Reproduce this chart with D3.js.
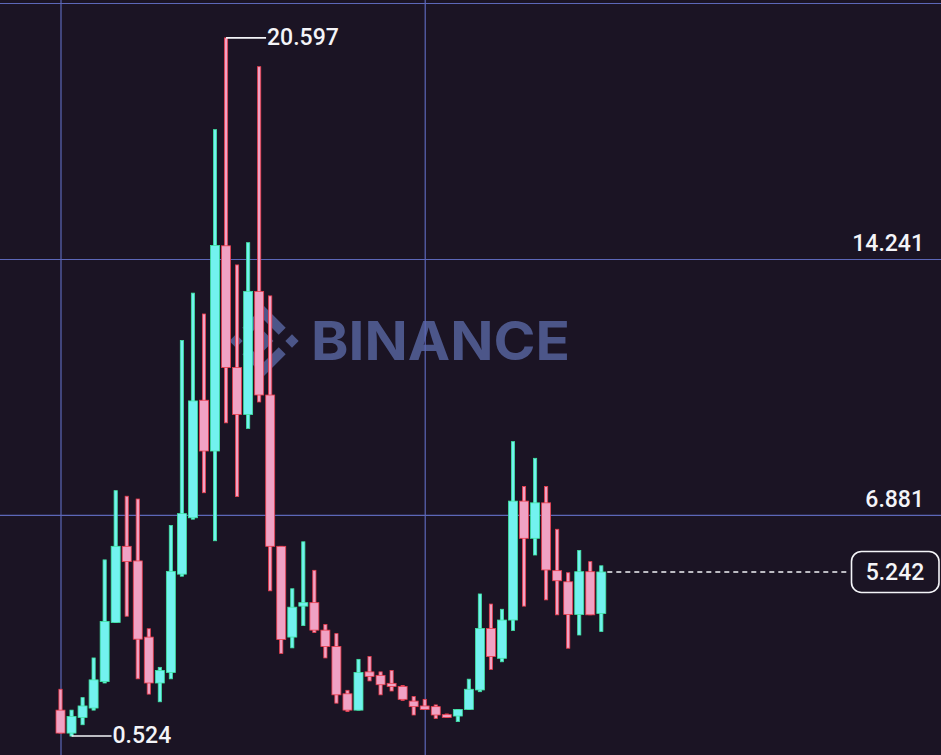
<!DOCTYPE html>
<html>
  <head>
    <meta charset="utf-8">
    <title>Price candles</title>
    <script src="https://cdn.jsdelivr.net/npm/d3@7"></script>
    <style>
      html, body { margin: 0; padding: 0; background: #1b1424; overflow: hidden; }
      #chart { display: block; }
      .label { font-family: Roboto, "Noto Sans", sans-serif; font-weight: 500; fill: #f4f4f8; }
      .grid line { stroke: #5c67b8; stroke-width: 1.2; }
      .grid .domain { display: none; }
    </style>
  </head>
  <body>
    <svg id="chart" width="941" height="755">
      <g id="watermarkGroup"></g>
      <g id="gridGroup"></g>
      <g id="candleGroup"></g>
      <g id="markerGroup"></g>
    </svg>
    <script>
      // candle data
      const opens  = [1.27, 0.61, 1.06, 1.33, 2.09, 3.79, 5.98, 5.56, 3.37, 2.05,
                      2.35, 5.18, 6.80, 10.18, 8.72, 14.62, 11.12, 9.77, 13.31, 10.33,
                      5.98, 3.37, 4.26, 4.36, 3.57, 3.10, 1.74, 1.27, 2.37, 2.27,
                      2.04, 1.95, 1.53, 1.39, 1.37, 1.14, 1.10, 1.29, 1.85, 3.62,
                      2.76, 3.86, 7.28, 6.21, 7.23, 5.28, 4.96, 4.02, 5.25, 4.05];
      const highs  = [1.87, 1.27, 1.63, 2.77, 5.59, 7.58, 7.42, 7.34, 3.61, 2.50,
                      6.58, 11.90, 13.26, 12.66, 17.96, 20.597, 14.07, 14.71, 19.77, 13.18,
                      5.98, 4.76, 6.11, 5.29, 3.73, 3.47, 1.84, 2.73, 2.81, 2.37,
                      2.41, 1.98, 1.66, 1.58, 1.42, 1.16, 1.29, 2.16, 4.61, 4.32,
                      4.17, 8.99, 7.70, 8.51, 7.70, 6.47, 5.22, 5.86, 5.54, 5.42];
      const lows   = [0.61, 0.524, 0.85, 1.27, 2.05, 3.79, 3.97, 2.17, 1.73, 1.51,
                      2.17, 5.12, 6.76, 7.52, 6.14, 9.53, 7.41, 9.37, 10.13, 4.70,
                      2.90, 3.06, 3.70, 3.50, 2.77, 1.47, 1.23, 1.27, 2.11, 1.71,
                      1.82, 1.55, 1.13, 1.29, 1.03, 1.06, 0.94, 1.29, 1.80, 2.44,
                      2.66, 3.56, 4.26, 5.73, 4.44, 4.01, 3.05, 3.43, 4.01, 3.53];
      const closes = [0.61, 1.09, 1.39, 2.14, 3.82, 5.98, 5.54, 3.31, 2.05, 2.41,
                      5.26, 6.92, 10.16, 8.72, 14.63, 11.12, 9.77, 13.31, 10.33, 5.98,
                      3.30, 4.23, 4.36, 3.57, 3.10, 1.71, 1.27, 2.35, 2.24, 2.00,
                      1.95, 1.58, 1.37, 1.29, 1.13, 1.06, 1.29, 1.87, 3.62, 2.81,
                      3.86, 7.28, 6.21, 7.23, 5.30, 4.99, 4.02, 5.25, 4.01, 5.242];
      // price grid and labels
      const gridValues = [6.881, 14.241, 21.601];
      const gridLabels = ["6.881", "14.241", ""];
      // candles where the time grid sits
      const timeGridIndex = [0, 33];

      const candles = opens.map(function(o, i) {
        return { i: i, open: o, high: highs[i], low: lows[i], close: closes[i] };
      });

      // page elements
      const width = 941, height = 755;
      const watermarkGroup = d3.select("#watermarkGroup");
      const gridGroup = d3.select("#gridGroup");
      const candleGroup = d3.select("#candleGroup");
      const markerGroup = d3.select("#markerGroup");

      // scales
      const x = d3.scaleLinear()
        .domain([0, candles.length - 1])
        .range([60.5, 601.3]);
      const y = d3.scaleLinear()
        .domain([0, 21.601])
        .range([754.3, 3]);
      const fmt = d3.format(".3f");

      // watermark
      const logo = watermarkGroup.append("g")
        .attr("transform", "translate(264,341) scale(35)")
        .attr("fill", "#4c5689");
      function diamond(cx, r) {
        return [[cx, -r], [cx + r, 0], [cx, r], [cx - r, 0]];
      }
      const logoShapes = [
        diamond(0, 0.27), diamond(-0.8, 0.19), diamond(0.8, 0.19),
        [[-0.62, -0.38], [0, -1], [0.62, -0.38], [0.42, -0.18], [0, -0.6], [-0.42, -0.18]],
        [[-0.62, 0.38], [0, 1], [0.62, 0.38], [0.42, 0.18], [0, 0.6], [-0.42, 0.18]]
      ];
      logo.selectAll("polygon")
        .data(logoShapes)
        .enter().append("polygon")
          .attr("points", function(d) { return d.map(function(p) { return p.join(","); }).join(" "); });
      watermarkGroup.append("text")
        .attr("x", 311)
        .attr("y", 360)
        .attr("textLength", 259)
        .attr("lengthAdjust", "spacingAndGlyphs")
        .style("font-family", "Inter, Lato, sans-serif")
        .style("font-weight", 700)
        .style("font-size", "53px")
        .style("fill", "#4c5689")
        .text("BINANCE");

      // price grid
      const yAxis = d3.axisLeft(y)
        .tickValues(gridValues)
        .tickSize(width)
        .tickFormat(function(d, i) { return gridLabels[i]; });
      const yAxisGroup = gridGroup.append("g")
        .classed("grid", true)
        .attr("transform", "translate(" + width + ",0)")
        .call(yAxis);
      yAxisGroup.selectAll("text")
        .attr("class", "label")
        .attr("x", -17)
        .attr("dy", null)
        .attr("y", -8)
        .attr("text-anchor", "end")
        .style("font-size", "23px");

      // time grid
      const xAxis = d3.axisBottom(x)
        .tickValues(timeGridIndex)
        .tickSize(-height)
        .tickFormat("");
      gridGroup.append("g")
        .classed("grid", true)
        .attr("transform", "translate(0," + height + ")")
        .call(xAxis);

      // candles
      const up = { fill: "#72f2ef", stroke: "#3fe3a2" };
      const down = { fill: "#f0a2c4", stroke: "#ea3c4c" };
      const bars = candleGroup.selectAll(".candle")
        .data(candles)
        .enter().append("g")
          .classed("candle", true)
          .each(function(d) { d.c = d.close >= d.open ? up : down; });
      bars.append("rect")
        .classed("wick", true)
        .attr("x", function(d) { return x(d.i) - 1.6; })
        .attr("width", 3.2)
        .attr("y", function(d) { return y(d.high); })
        .attr("height", function(d) { return y(d.low) - y(d.high); })
        .attr("fill", function(d) { return d.c.fill; })
        .attr("stroke", function(d) { return d.c.stroke; })
        .attr("stroke-width", 0.8);
      bars.append("rect")
        .classed("body", true)
        .attr("x", function(d) { return x(d.i) - 4.5; })
        .attr("width", 9)
        .attr("y", function(d) { return y(Math.max(d.open, d.close)); })
        .attr("height", function(d) { return Math.max(2, Math.abs(y(d.open) - y(d.close))); })
        .attr("fill", function(d) { return d.c.fill; })
        .attr("stroke", function(d) { return d.c.stroke; })
        .attr("stroke-width", 0.8);

      // high and low markers
      const hi = d3.maxIndex(highs);
      const lo = d3.minIndex(lows);
      const markers = [
        { i: hi, v: highs[hi] },
        { i: lo, v: lows[lo] }
      ];
      markerGroup.selectAll(".markLine")
        .data(markers)
        .enter().append("line")
          .attr("x1", function(d) { return x(d.i); })
          .attr("x2", function(d) { return x(d.i) + 40; })
          .attr("y1", function(d) { return y(d.v); })
          .attr("y2", function(d) { return y(d.v); })
          .attr("stroke", "#f4f4f8")
          .attr("stroke-width", 1.6);
      markerGroup.selectAll(".markText")
        .data(markers)
        .enter().append("text")
          .attr("class", "label")
          .attr("x", function(d) { return x(d.i) + 41; })
          .attr("y", function(d) { return y(d.v); })
          .attr("dy", "0.3em")
          .style("font-size", "23px")
          .text(function(d) { return fmt(d.v); });

      // last price
      const last = candles[candles.length - 1];
      const lastY = y(last.close);
      markerGroup.append("line")
        .attr("x1", x(last.i) + 6)
        .attr("x2", 848)
        .attr("y1", lastY)
        .attr("y2", lastY)
        .attr("stroke", "#f4f4f8")
        .attr("stroke-width", 1.5)
        .attr("stroke-dasharray", "5,4");
      markerGroup.append("rect")
        .attr("x", 851.5)
        .attr("y", lastY - 20.5)
        .attr("width", 87.5)
        .attr("height", 41)
        .attr("rx", 10)
        .attr("fill", "#1b1424")
        .attr("stroke", "#f4f4f8")
        .attr("stroke-width", 1.6);
      markerGroup.append("text")
        .attr("class", "label")
        .attr("x", 895)
        .attr("y", lastY)
        .attr("dy", "0.36em")
        .attr("text-anchor", "middle")
        .style("font-size", "23px")
        .text(fmt(last.close));
    </script>
  </body>
</html>
